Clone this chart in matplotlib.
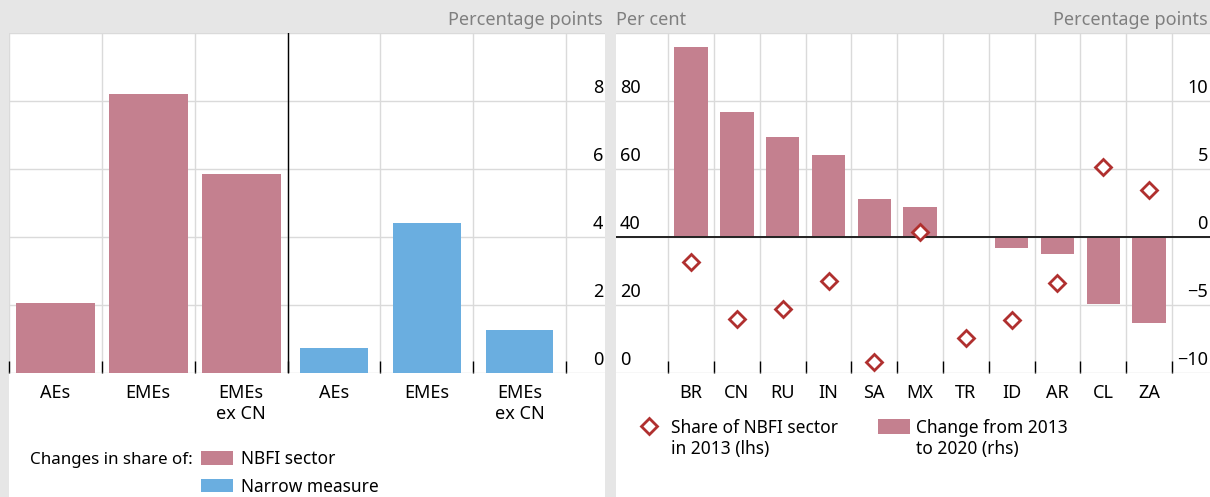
import matplotlib
matplotlib.use('Agg')
import matplotlib.pyplot as plt
import matplotlib.transforms as mtrans
from matplotlib.patches import Rectangle

plt.rcParams['font.family'] = ['Noto Sans', 'DejaVu Sans']
FS = 12.5

# ---------------- data ----------------
left_categories = ['AEs', 'EMEs', 'EMEs\nex CN']
nbfi_change = [2.05, 8.2, 5.85]          # Changes in share of NBFI sector
narrow_change = [0.74, 4.4, 1.26]        # Changes in share of narrow measure
left_yticks = [0, 2, 4, 6, 8]

right_categories = ['BR', 'CN', 'RU', 'IN', 'SA', 'MX', 'TR', 'ID', 'AR', 'CL', 'ZA']
change_2013_2020 = [14.0, 9.2, 7.35, 6.0, 2.8, 2.2, 0.0, -0.78, -1.22, -4.9, -6.3]   # rhs
share_2013 = [32.6, 15.9, 18.8, 27.0, 3.1, 41.4, 10.4, 15.7, 26.5, 60.7, 53.8]       # lhs
lhs_ticks = [0, 20, 40, 60, 80]
rhs_ticks = [-10, -5, 0, 5, 10]

PINK = '#c4808f'
BLUE = '#6aaee0'
RED = '#b0302f'
GRID = '#dadada'
BG = '#e6e6e6'
TITLE = '#7f7f7f'

W, H = 1210, 497
fig = plt.figure(figsize=(W / 100, H / 100), dpi=100, facecolor=BG)


def fx(px):
    return px / W


def fy(py):
    return 1 - py / H


# white panels
for x0, x1 in [(9, 605), (616, 1210)]:
    fig.patches.append(Rectangle((fx(x0), 0), fx(x1) - fx(x0), fy(33),
                                 transform=fig.transFigure, facecolor='white',
                                 edgecolor='none', zorder=-5))


def fmt(v):
    return f"{v:g}".replace('-', '\u2212')


def top_align(leg):
    for col in leg._legend_handle_box.get_children():
        for hp in col.get_children():
            hp.align = 'top'


# ---------------- left panel ----------------
axL = fig.add_axes([fx(9), fy(373), fx(605) - fx(9), (373 - 33) / H])
axL.set_facecolor('none')
nL = len(left_categories)
xa = list(range(nL))
xb = list(range(nL, 2 * nL))
b1 = axL.bar(xa, nbfi_change, width=0.85, color=PINK, zorder=2, label='NBFI sector')
b2 = axL.bar(xb, narrow_change, width=0.73, color=BLUE, zorder=2, label='Narrow measure')
axL.set_xlim(-0.5, 5.92)
axL.set_ylim(0, 10)
axL.set_yticks([0, 2, 4, 6, 8, 10])
axL.set_xticks(xa + xb)
axL.set_xticklabels(left_categories * 2, fontsize=FS + 0.5, color='black', linespacing=1.2)
axL.set_xticks([i - 0.5 for i in range(2 * nL + 1)], minor=True)
axL.tick_params(axis='x', which='major', length=0, pad=8)
axL.tick_params(axis='x', which='minor', direction='in', length=9, width=1, color='black')
axL.tick_params(axis='y', length=0, labelleft=False)
axL.grid(axis='y', color=GRID, lw=1, zorder=0)
axL.grid(axis='x', which='minor', color=GRID, lw=1, zorder=0)
axL.axvline(nL - 0.5, color='black', lw=1, zorder=3)
for s in axL.spines.values():
    s.set_visible(False)
offL = mtrans.offset_copy(axL.get_yaxis_transform(), fig=fig, x=-2, y=4, units='dots')
for t in left_yticks:
    axL.text(1, t, fmt(t), transform=offL, ha='right', va='bottom', fontsize=FS + 0.5)

fig.text(fx(603), fy(20), 'Percentage points', ha='right', va='center', fontsize=13, color=TITLE)

fig.text(fx(30), fy(460), 'Changes in share of:', ha='left', va='center', fontsize=FS - 0.3)
legL = fig.legend(handles=[b1, b2], loc='upper left', bbox_to_anchor=(fx(201), fy(450)),
                  frameon=False, fontsize=FS, borderpad=0, borderaxespad=0,
                  handlelength=1.85, handleheight=0.8, handletextpad=0.45, labelspacing=0.55)

# ---------------- right panel ----------------
axR = fig.add_axes([fx(616), fy(373), fx(1210) - fx(616), (373 - 33) / H])
axR.set_facecolor('none')
nR = len(right_categories)
xr = list(range(nR))
bars = axR.bar(xr, change_2013_2020, width=0.73, color=PINK, zorder=2,
               label='Change from 2013\nto 2020 (rhs)')
axR.set_xlim(-1.64, 11.33)
axR.set_ylim(-10, 15)
axR.set_yticks([-10, -5, 0, 5, 10, 15])
axR.set_xticks(xr)
axR.set_xticklabels(right_categories, fontsize=FS + 0.5)
axR.set_xticks([i - 0.5 for i in range(nR + 1)], minor=True)
axR.tick_params(axis='x', which='major', length=0, pad=8)
axR.tick_params(axis='x', which='minor', direction='in', length=9, width=1, color='black')
axR.tick_params(axis='y', length=0, labelleft=False, labelright=False)
axR.grid(axis='y', color=GRID, lw=1, zorder=0)
axR.grid(axis='x', which='minor', color=GRID, lw=1, zorder=0)
axR.axhline(0, color='#222222', lw=1.4, zorder=3)
for s in axR.spines.values():
    s.set_visible(False)

axS = axR.twinx()
axS.set_ylim(0, 100)
axS.set_yticks([])
for s in axS.spines.values():
    s.set_visible(False)
dia, = axS.plot(xr, share_2013, linestyle='none', marker='D', markersize=8.3,
                markerfacecolor='white', markeredgecolor=RED, markeredgewidth=2.0,
                zorder=4, label='Share of NBFI sector\nin 2013 (lhs)')

offRL = mtrans.offset_copy(axS.get_yaxis_transform(), fig=fig, x=4, y=4, units='dots')
for t in lhs_ticks:
    axS.text(0, t, fmt(t), transform=offRL, ha='left', va='bottom', fontsize=FS + 0.5)
offRR = mtrans.offset_copy(axR.get_yaxis_transform(), fig=fig, x=-2, y=4, units='dots')
for t in rhs_ticks:
    axR.text(1, t, fmt(t), transform=offRR, ha='right', va='bottom', fontsize=FS + 0.5)

fig.text(fx(616), fy(20), 'Per cent', ha='left', va='center', fontsize=13, color=TITLE)
fig.text(fx(1208), fy(20), 'Percentage points', ha='right', va='center', fontsize=13, color=TITLE)

legR = fig.legend(handles=[dia, bars], loc='upper left', bbox_to_anchor=(fx(633), fy(419)),
                  ncol=2, frameon=False, fontsize=FS, borderpad=0, borderaxespad=0,
                  handlelength=1.85, handleheight=0.95, handletextpad=0.35, columnspacing=2.3,
                  labelspacing=0.4)
top_align(legR)

fig.savefig('out.png', dpi=100, facecolor=BG)
